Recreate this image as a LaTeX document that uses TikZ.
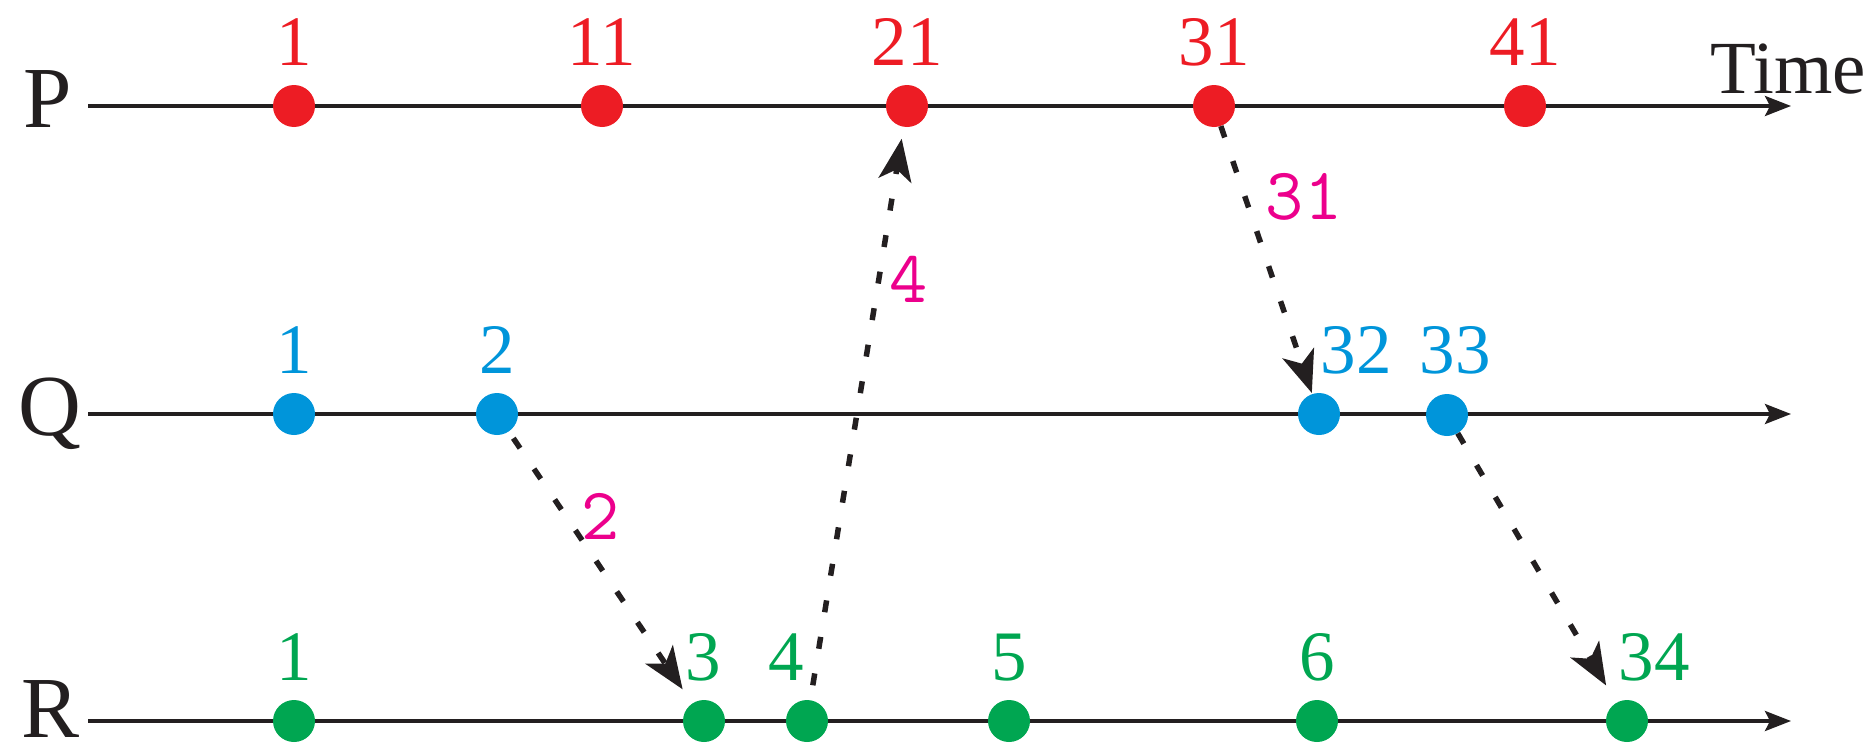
\documentclass[tikz,border=0pt]{standalone}
\usepackage{fontspec}
\setmainfont{Liberation Serif}
\usetikzlibrary{arrows.meta}
\definecolor{pred}{RGB}{237,28,36}
\definecolor{qblue}{RGB}{0,149,218}
\definecolor{rgreen}{RGB}{0,166,81}
\definecolor{msgpink}{RGB}{236,0,140}
\definecolor{ink}{RGB}{35,31,32}
\begin{document}
\begin{tikzpicture}[x=1pt,y=-1pt,
  timeline/.style={draw=ink,line width=3.5pt,-{Stealth[length=26pt,width=20pt,inset=5pt]}},
  event/.style={circle,inner sep=0pt,minimum size=42pt,fill=#1},
  stamp/.style={anchor=base,inner sep=0pt,text=#1,font=\fontsize{71}{71}\selectfont},
  proc/.style={anchor=base west,inner sep=0pt,text depth=0pt,text=ink,font=\fontsize{87}{87}\selectfont},
  msg/.style={draw=ink,line width=5.5pt,dash pattern=on 12pt off 25pt,-{Stealth[length=42pt,width=33pt,inset=11pt]}},
  msglabel/.style={anchor=base,inner sep=0pt,text=msgpink,font=\ttfamily\fontsize{74}{74}\selectfont}]
\useasboundingbox (0,0) rectangle (1866,744);

% process names
\node[proc] (lp) at (23,127) {P};
\node[proc] (lq) at (18,435) {Q};
\node[proc] (lr) at (21,737) {R};
\node[proc,font=\fontsize{75}{75}\selectfont] (time) at (1710,93) {Time};

% timelines
\coordinate (ps) at (88,106);  \coordinate (pe) at (1791,106);
\coordinate (qs) at (88,414);  \coordinate (qe) at (1791,414);
\coordinate (rs) at (88,721);  \coordinate (re) at (1791,721);
\draw[timeline] (ps) -- (pe);
\draw[timeline] (qs) -- (qe);
\draw[timeline] (rs) -- (re);

% events on P
\node[event=pred] (p1) at (294,106) {};
\node[event=pred] (p11) at (602,106) {};
\node[event=pred] (p21) at (907,106) {};
\node[event=pred] (p31) at (1214,106) {};
\node[event=pred] (p41) at (1525,106) {};
\node[stamp=pred] (tp1) at (294,65) {1};
\node[stamp=pred] (tp11) at (602,65) {11};
\node[stamp=pred] (tp21) at (907,65) {21};
\node[stamp=pred] (tp31) at (1214,65) {31};
\node[stamp=pred] (tp41) at (1525,65) {41};

% events on Q
\node[event=qblue] (q1) at (294,414) {};
\node[event=qblue] (q2) at (497,414) {};
\node[event=qblue] (q32) at (1319,414) {};
\node[event=qblue] (q33) at (1447,415) {};
\node[stamp=qblue] (tq1) at (294,373) {1};
\node[stamp=qblue] (tq2) at (497,373) {2};
\node[stamp=qblue] (tq32) at (1356,373) {32};
\node[stamp=qblue] (tq33) at (1455,373) {33};

% events on R
\node[event=rgreen] (r1) at (294,721) {};
\node[event=rgreen] (r3) at (704,721) {};
\node[event=rgreen] (r4) at (807,721) {};
\node[event=rgreen] (r5) at (1009,721) {};
\node[event=rgreen] (r6) at (1317,721) {};
\node[event=rgreen] (r34) at (1627,721) {};
\node[stamp=rgreen] (tr1) at (294,680) {1};
\node[stamp=rgreen] (tr3) at (703,680) {3};
\node[stamp=rgreen] (tr4) at (786,680) {4};
\node[stamp=rgreen] (tr5) at (1009,680) {5};
\node[stamp=rgreen] (tr6) at (1317,680) {6};
\node[stamp=rgreen] (tr34) at (1654,680) {34};

% messages
\draw[msg,shorten <=8pt,shorten >=17pt] (q2) -- (r3);
\draw[msg,shorten <=15pt,shorten >=12pt] (r4) -- (p21);
\draw[msg,shorten >=1pt] (p31) -- (q32);
\draw[msg,shorten >=20pt] (q33) -- (r34);

\node[msglabel] (m2) at (601,539) {2};
\node[msglabel] (m4) at (909,302) {4};
\node[msglabel] (m31) at (1304,219) {31};
\end{tikzpicture}
\end{document}
